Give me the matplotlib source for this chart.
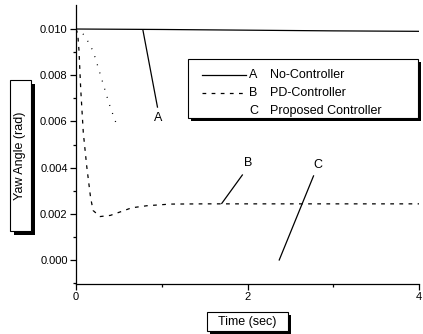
import matplotlib
matplotlib.use("Agg")
import matplotlib.pyplot as plt
from matplotlib.patches import Rectangle

plt.rcParams['font.family'] = ['Liberation Sans', 'DejaVu Sans']

# Data
t_a = [0.0, 1.0, 2.0, 3.0, 4.0]
yaw_a = [0.0100, 0.00998, 0.00995, 0.00992, 0.00990]

t_b = [0.0, 0.02, 0.035, 0.055, 0.085, 0.125, 0.17, 0.2, 0.28, 0.4, 0.53, 0.65, 0.83, 1.1, 1.5, 2.0, 3.0, 4.0]
yaw_b = [0.0100, 0.0098, 0.00906, 0.0074, 0.00552, 0.00406, 0.0027, 0.00214, 0.00188, 0.00193,
         0.0021, 0.00226, 0.00235, 0.00242, 0.00243, 0.00243, 0.00243, 0.00243]

t_c = [0.0, 0.05, 0.105, 0.2, 0.27, 0.385, 0.44, 0.49]
yaw_c = [0.0100, 0.0099, 0.0097, 0.00904, 0.0082, 0.00678, 0.0062, 0.0057]

yticks = [0.000, 0.002, 0.004, 0.006, 0.008, 0.010]
ytick_labels = ["0.000", "0.002", "0.004", "0.006", "0.008", "0.010"]
xticks = [0, 2, 4]
xtick_labels = ["0", "2", "4"]

W, H = 423, 334
fig = plt.figure(figsize=(W / 100, H / 100), dpi=100)

def fx(px):
    return px / W

def fy(py):
    return 1 - py / H

ax = fig.add_axes([fx(76), fy(284), fx(419) - fx(76), fy(5) - fy(284)])
ax.set_xlim(0, 4)
ax.set_ylim(-0.00104, 0.01104)

B_DASH = (3, 4.3)

ax.plot(t_a, yaw_a, color='black', lw=0.9)
ax.plot(t_b, yaw_b, color='black', lw=0.9, dashes=B_DASH)
ax.plot(t_c, yaw_c, color='black', lw=0.9, dashes=(0.8, 6))

for s in ['top', 'right']:
    ax.spines[s].set_visible(False)
for s in ['left', 'bottom']:
    ax.spines[s].set_linewidth(0.9)

ax.set_yticks(yticks)
ax.set_yticklabels(ytick_labels)
ax.set_xticks(xticks)
ax.set_xticklabels(xtick_labels)
ax.set_yticks([-0.001, 0.001, 0.003, 0.005, 0.007, 0.009], minor=True)
ax.set_xticks([1, 3], minor=True)
ax.tick_params(axis='both', which='major', direction='out', length=4, width=0.9,
               labelsize=8, pad=2)
ax.tick_params(axis='both', which='minor', direction='out', length=2.5, width=0.9)

# pointer annotations
ax.plot([0.78, 0.95], [0.00996, 0.00662], color='black', lw=0.9)
ax.text(0.96, 0.00615, "A", fontsize=9, ha='center', va='center')
ax.plot([1.70, 1.94], [0.00245, 0.00368], color='black', lw=0.9)
ax.text(2.01, 0.0042, "B", fontsize=9, ha='center', va='center')
ax.plot([2.37, 2.77], [0.0, 0.00364], color='black', lw=0.9)
ax.text(2.82, 0.0041, "C", fontsize=9, ha='center', va='center')

def shadow_box(x0, y0, x1, y1, off=3.5):
    fig.patches.append(Rectangle((fx(x0 + off), fy(y1 + off)), fx(x1 - x0), fy(y0) - fy(y1),
                                 transform=fig.transFigure, facecolor='black',
                                 edgecolor='black', lw=0, zorder=5))
    fig.patches.append(Rectangle((fx(x0), fy(y1)), fx(x1 - x0), fy(y0) - fy(y1),
                                 transform=fig.transFigure, facecolor='white',
                                 edgecolor='black', lw=0.8, zorder=6))

# legend box
shadow_box(188, 59, 418, 118, off=3)
legend_rows = [(75, "A", "No-Controller", 'solid'),
               (93, "B", "PD-Controller", 'dashed'),
               (111, "C", "Proposed Controller", None)]
for py, letter, name, style in legend_rows:
    if style == 'solid':
        fig.add_artist(plt.Line2D([fx(202), fx(246)], [fy(py), fy(py)], transform=fig.transFigure,
                                  color='black', lw=0.9, zorder=7))
    elif style == 'dashed':
        fig.add_artist(plt.Line2D([fx(202), fx(246)], [fy(py), fy(py)], transform=fig.transFigure,
                                  color='black', lw=0.9, dashes=B_DASH, zorder=7))
    fig.text(fx(249), fy(py), letter, fontsize=9, ha='left', va='center', zorder=8)
    fig.text(fx(270), fy(py), name, fontsize=9, ha='left', va='center', zorder=8)

# y label box
shadow_box(10, 80, 31, 231, off=3.5)
fig.text(fx(20.5), fy(155.5), "Yaw Angle (rad)", fontsize=9, rotation=90,
         ha='center', va='center', zorder=8)

# x label box
shadow_box(207, 312, 288, 331, off=3)
fig.text(fx(247.5), fy(321.5), "Time (sec)", fontsize=9, ha='center', va='center', zorder=8)

fig.savefig("out.png", dpi=100)
